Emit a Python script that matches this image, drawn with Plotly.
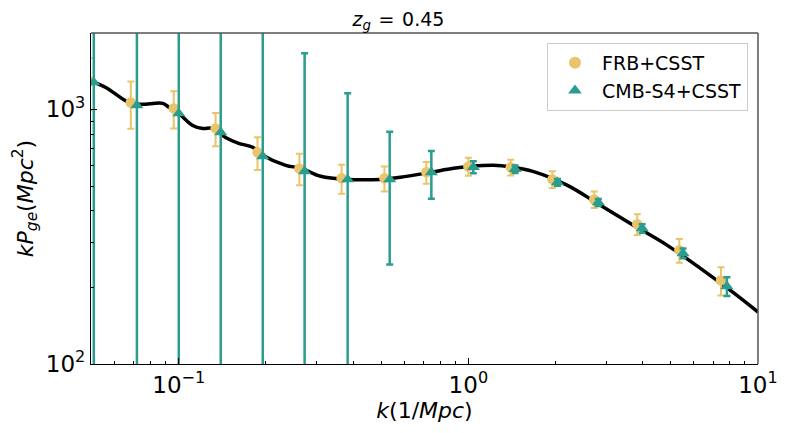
import plotly.graph_objects as go

# theory curve k*P_ge
k_curve = [0.0501, 0.056, 0.0673, 0.0739, 0.0881, 0.0924, 0.100, 0.1117, 0.121,
           0.131, 0.145, 0.161, 0.180, 0.195, 0.234, 0.264, 0.309, 0.383, 0.498,
           0.583, 0.740, 0.888, 1.016, 1.22, 1.43, 1.67, 2.19, 2.85, 3.71, 4.85,
           6.31, 8.2, 10.0]
p_curve = [1289, 1219, 1064, 1047, 1056, 1019, 964, 865, 842,
           842, 776, 736, 710, 661, 603, 587, 546, 531, 531,
           541, 566, 587, 597, 603, 593, 571, 504, 421, 351, 293,
           238, 191, 160]

# FRB+CSST forecast
k_frb = [0.0490, 0.0683, 0.0961, 0.134, 0.187, 0.261, 0.365, 0.513,
         0.716, 1.00, 1.40, 1.95, 2.72, 3.83, 5.35, 7.45]
p_frb = [1290, 1064, 1009, 842, 678, 586, 536, 536,
         566, 597, 592, 531, 443, 354, 280, 213]
err_frb = [300, 224, 168, 125, 100, 83, 70, 60,
           56, 48, 42, 40, 33, 33, 30, 27]

# CMB-S4+CSST forecast
k_cmb = [0.0509, 0.0717, 0.100, 0.1396, 0.195, 0.272, 0.383, 0.535,
         0.745, 1.04, 1.45, 2.03, 2.81, 3.98, 5.51, 7.81]
p_cmb = [1276, 1037, 964, 813, 654, 571, 531, 531,
         566, 593, 582, 517, 431, 341, 272, 202]
err_cmb = [9000, 7000, 5000, 4000, 3000, 1090, 625, 285,
           120, 32, 20, 16, 14, 13, 12, 17]

x_ticks = [0.1, 1, 10]
x_ticktext = ["10<sup>\u22121</sup>", "10<sup>0</sup>", "10<sup>1</sup>"]
y_ticks = [100, 1000]
y_ticktext = ["10<sup>2</sup>", "10<sup>3</sup>"]
x_minor = [0.06, 0.07, 0.08, 0.09, 0.2, 0.3, 0.4, 0.5, 0.6, 0.7, 0.8, 0.9,
           2, 3, 4, 5, 6, 7, 8, 9]
y_minor = [200, 300, 400, 500, 600, 700, 800, 900]

yellow = "#E9C46A"
teal = "#2A9D8F"

fig = go.Figure()
fig.add_trace(go.Scatter(x=k_curve, y=p_curve, mode="lines", line_shape="spline",
                         line=dict(color="black", width=3.5), showlegend=False))
fig.add_trace(go.Scatter(x=k_frb, y=p_frb, mode="markers", name="FRB+CSST",
                         marker=dict(symbol="circle", size=10.5, color=yellow),
                         error_y=dict(type="data", array=err_frb, color=yellow,
                                      thickness=2, width=3.5)))
fig.add_trace(go.Scatter(x=k_cmb, y=p_cmb, mode="markers", name="CMB-S4+CSST",
                         marker=dict(symbol="triangle-up", size=11.5, color=teal),
                         error_y=dict(type="data", array=err_cmb, color=teal,
                                      thickness=2.5, width=3.5)))

axis_common = dict(type="log", showgrid=False, zeroline=False, showline=True,
                   linecolor="black", linewidth=1.2, ticks="inside", ticklen=6,
                   tickcolor="black", tickfont=dict(size=23, color="black"))

fig.update_xaxes(**axis_common, range=[-1.303, 1],
                 tickmode="array", tickvals=x_ticks, ticktext=x_ticktext,
                 minor=dict(ticks="inside", ticklen=3, tickcolor="black",
                            tickmode="array", tickvals=x_minor, showgrid=False),
                 title=dict(text="<i>k</i>(1/<i>Mpc</i>)", font=dict(size=22),
                            standoff=2))
fig.update_yaxes(**axis_common, range=[2, 3.3],
                 tickmode="array", tickvals=y_ticks, ticktext=y_ticktext,
                 minor=dict(ticks="inside", ticklen=3, tickcolor="black",
                            tickmode="array", tickvals=y_minor, showgrid=False),
                 title=dict(text="<i>kP</i><sub><i>ge</i></sub>(<i>Mpc</i><sup>2</sup>)",
                            font=dict(size=22), standoff=6))

# grey top/right spines
fig.add_shape(type="line", xref="paper", yref="paper", x0=0, x1=1, y0=1, y1=1,
              line=dict(color="#555555", width=1.5))
fig.add_shape(type="line", xref="paper", yref="paper", x0=1, x1=1, y0=0, y1=1,
              line=dict(color="#555555", width=1.5))

# page body has an 8px margin, so the figure is shrunk by that amount
fig.update_layout(
    width=781, height=425,
    margin=dict(l=83, r=31, t=25, b=69),
    paper_bgcolor="white", plot_bgcolor="white",
    font=dict(family="DejaVu Sans", color="black"),
    title=dict(text="<i>z</i><sub><i>g</i></sub>\u2009\u2009=\u2009\u20090.45",
               x=0.5, xanchor="center",
               y=0.99, yanchor="top", font=dict(size=19)),
    legend=dict(x=0.985, y=0.97, xanchor="right", yanchor="top",
                bordercolor="#cccccc", borderwidth=1, bgcolor="white",
                font=dict(size=19), itemwidth=44, itemsizing="constant"),
)

fig.write_html("out.html")
